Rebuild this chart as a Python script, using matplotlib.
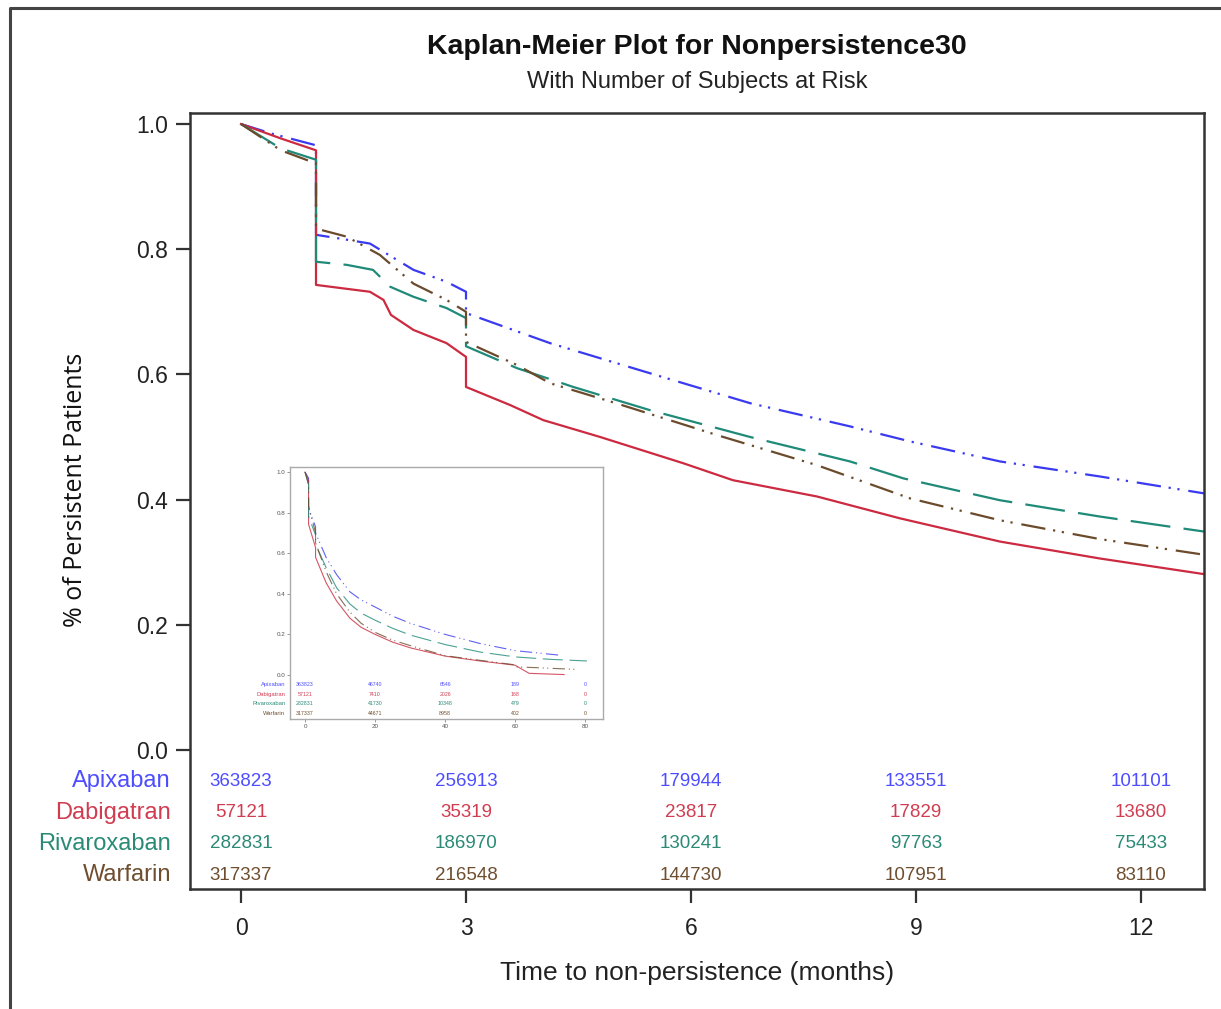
import matplotlib
matplotlib.use("Agg")
import matplotlib.pyplot as plt
from matplotlib.lines import Line2D

plt.rcParams['font.family'] = ['Liberation Sans', 'DejaVu Sans']

# survival curves, main panel (months, share persistent)
apx_t = [0, 0.4, 1, 1, 1.32, 1.72, 1.94, 2.3, 2.74, 3, 3, 4.12, 5.45, 6.79, 8.12, 8.92, 10.12, 11.45, 12.84]
apx_s = [1.0, 0.985, 0.966, 0.823, 0.817, 0.809, 0.793, 0.767, 0.748, 0.732, 0.698, 0.650, 0.602, 0.554, 0.517, 0.493, 0.461, 0.437, 0.410]

dab_t = [0, 0.53, 1, 1, 1.72, 1.9, 2.0, 2.3, 2.74, 3, 3, 3.59, 4.03, 4.79, 5.9, 6.56, 7.68, 8.79, 10.12, 11.45, 12.84]
dab_s = [1.0, 0.977, 0.958, 0.743, 0.732, 0.719, 0.695, 0.671, 0.650, 0.628, 0.580, 0.551, 0.527, 0.500, 0.458, 0.431, 0.405, 0.370, 0.333, 0.306, 0.281]

riv_t = [0, 0.53, 1, 1, 1.41, 1.76, 1.99, 2.3, 2.74, 3, 3, 3.68, 4.43, 5.45, 6.79, 8.12, 8.83, 10.12, 11.45, 12.84]
riv_s = [1.0, 0.961, 0.943, 0.780, 0.775, 0.767, 0.740, 0.724, 0.706, 0.690, 0.645, 0.610, 0.580, 0.543, 0.500, 0.461, 0.434, 0.399, 0.373, 0.349]

war_t = [0, 0.53, 1, 1, 1.41, 1.85, 2.3, 2.74, 3, 3, 3.68, 4.12, 5.0, 6.35, 7.68, 8.92, 10.12, 11.45, 12.84]
war_s = [1.0, 0.958, 0.937, 0.833, 0.820, 0.791, 0.745, 0.719, 0.700, 0.652, 0.615, 0.586, 0.554, 0.503, 0.455, 0.402, 0.367, 0.337, 0.312]

# inset: full follow-up
in_apx_t = [0, 1, 1, 3, 3, 6, 9, 12.8, 16, 20, 25, 30, 40, 50, 60, 73]
in_apx_s = [1.0, 0.97, 0.82, 0.73, 0.70, 0.58, 0.495, 0.41, 0.37, 0.335, 0.29, 0.255, 0.20, 0.155, 0.12, 0.097]
in_dab_t = [0, 1, 1, 3, 3, 6, 9, 12.8, 16, 20, 25, 30, 40, 50, 60, 64, 74]
in_dab_s = [1.0, 0.958, 0.743, 0.628, 0.58, 0.455, 0.365, 0.28, 0.235, 0.20, 0.162, 0.134, 0.093, 0.069, 0.048, 0.008, 0.002]
in_riv_t = [0, 1, 1, 3, 3, 6, 9, 12.8, 16, 20, 25, 30, 40, 50, 60, 70, 80.5]
in_riv_s = [1.0, 0.94, 0.78, 0.69, 0.644, 0.53, 0.43, 0.35, 0.305, 0.27, 0.23, 0.197, 0.15, 0.113, 0.089, 0.077, 0.069]
in_war_t = [0, 1, 1, 3, 3, 6, 9, 12.8, 16, 20, 25, 30, 40, 50, 60, 60.5, 70, 78]
in_war_s = [1.0, 0.937, 0.833, 0.70, 0.65, 0.51, 0.40, 0.31, 0.255, 0.21, 0.172, 0.145, 0.095, 0.072, 0.05, 0.04, 0.033, 0.027]

drugs = ['Apixaban', 'Dabigatran', 'Rivaroxaban', 'Warfarin']

risk_months = [0, 3, 6, 9, 12]
risk_apx = [363823, 256913, 179944, 133551, 101101]
risk_dab = [57121, 35319, 23817, 17829, 13680]
risk_riv = [282831, 186970, 130241, 97763, 75433]
risk_war = [317337, 216548, 144730, 107951, 83110]

in_risk_months = [0, 20, 40, 60, 80]
in_risk_apx = [363823, 46740, 6546, 189, 0]
in_risk_dab = [57121, 7410, 2026, 168, 0]
in_risk_riv = [282831, 41730, 10348, 479, 0]
in_risk_war = [317337, 44671, 8958, 402, 0]

line_colors = ['#3a3af0', '#cc2a40', '#1f8a78', '#6b4b2c']
text_colors = ['#4d4dff', '#d03c50', '#2a8a76', '#6e4e2e']
dashes = [(0, (11, 3.5, 1, 3, 1, 4)), '-', (0, (18, 6)), (0, (11, 3.5, 1, 3, 1, 4))]

W, H = 1221, 1009
fig = plt.figure(figsize=(W / 100, H / 100), dpi=100)

# main axes
ax = fig.add_axes([190 / W, 1 - 889 / H, 1014 / W, 776 / H])
curves = [(apx_t, apx_s), (dab_t, dab_s), (riv_t, riv_s), (war_t, war_s)]
for (t, s), c, ls in zip(curves, line_colors, dashes):
    ax.plot(t, s, color=c, lw=1.6, linestyle=ls, clip_on=True)

ax.set_xlim(-0.68, 12.84)
ax.set_ylim(-0.222, 1.0176)
ax.set_xticks(risk_months)
ax.set_yticks([0.0, 0.2, 0.4, 0.6, 0.8, 1.0])
ax.set_yticklabels(['0.0', '0.2', '0.4', '0.6', '0.8', '1.0'])
ax.tick_params(axis='both', direction='out', length=10, width=1.6, color='#333333',
               labelsize=16.5, labelcolor='#222222', pad=6)
ax.tick_params(axis='x', pad=10)
for sp in ax.spines.values():
    sp.set_linewidth(1.8)
    sp.set_color('#333333')

risks = [risk_apx, risk_dab, risk_riv, risk_war]
for k, (name, vals, col) in enumerate(zip(drugs, risks, text_colors)):
    yrow = -0.05 * (k + 1)
    for m, v in zip(risk_months, vals):
        ax.text(m, yrow, str(v), color=col, fontsize=13.5, ha='center', va='center')
    ax.text(-0.0187, yrow, name, color=col, fontsize=17, ha='right', va='center',
            transform=ax.get_yaxis_transform(), clip_on=False)

ax.set_xlabel('Time to non-persistence (months)', fontsize=19, color='#222222')
ax.xaxis.set_label_coords(0.5, (1 - 973 / H - (1 - 889 / H)) / (776 / H))
ax.xaxis.label.set_verticalalignment('center')
ax.set_ylabel('% of Persistent Patients', fontsize=18, family=['Open Sans', 'DejaVu Sans'], color='#111111')
ax.yaxis.set_label_coords((76 - 190) / 1014, (889 - 490) / 776)
ax.yaxis.label.set_verticalalignment('center')

fig.text(697 / W, 1 - 47 / H, 'Kaplan-Meier Plot for Nonpersistence30', fontsize=20.5,
         fontweight='bold', ha='center', va='center', color='#111111')
fig.text(697 / W, 1 - 82 / H, 'With Number of Subjects at Risk', fontsize=17,
         ha='center', va='center', color='#222222')

# inset
ins = fig.add_axes([290 / W, 1 - 719 / H, 313 / W, 252 / H])
in_curves = [(in_apx_t, in_apx_s), (in_dab_t, in_dab_s), (in_riv_t, in_riv_s), (in_war_t, in_war_s)]
for (t, s), c, ls in zip(in_curves, line_colors, dashes):
    ins.plot(t, s, color=c, lw=0.8, linestyle=ls, alpha=0.8)
ins.set_xlim(-4.3, 85.1)
ins.set_ylim(-0.217, 1.025)
ins.set_xticks(in_risk_months)
ins.set_yticks([0.0, 0.2, 0.4, 0.6, 0.8, 1.0])
ins.set_yticklabels(['0.0', '0.2', '0.4', '0.6', '0.8', '1.0'])
ins.tick_params(axis='both', direction='out', length=2, width=0.6, color='#888888',
                labelsize=4.5, labelcolor='#555555', pad=1.5)
for sp in ins.spines.values():
    sp.set_linewidth(1.0)
    sp.set_color('#aaaaaa')
in_risks = [in_risk_apx, in_risk_dab, in_risk_riv, in_risk_war]
for k, (name, vals, col) in enumerate(zip(drugs, in_risks, text_colors)):
    yrow = -0.047 * (k + 1)
    for m, v in zip(in_risk_months, vals):
        ins.text(m, yrow, str(v), color=col, fontsize=3.8, ha='center', va='center')
    ins.text(-0.015, yrow, name, color=col, fontsize=4.2, ha='right', va='center',
             transform=ins.get_yaxis_transform(), clip_on=False)

# outer frame of the picture
fig.add_artist(Line2D([10 / W, 10 / W, 1.0], [0.0, 1 - 8 / H, 1 - 8 / H],
                      transform=fig.transFigure, color='#444444', lw=2.2))

fig.savefig('out.png', dpi=100)
